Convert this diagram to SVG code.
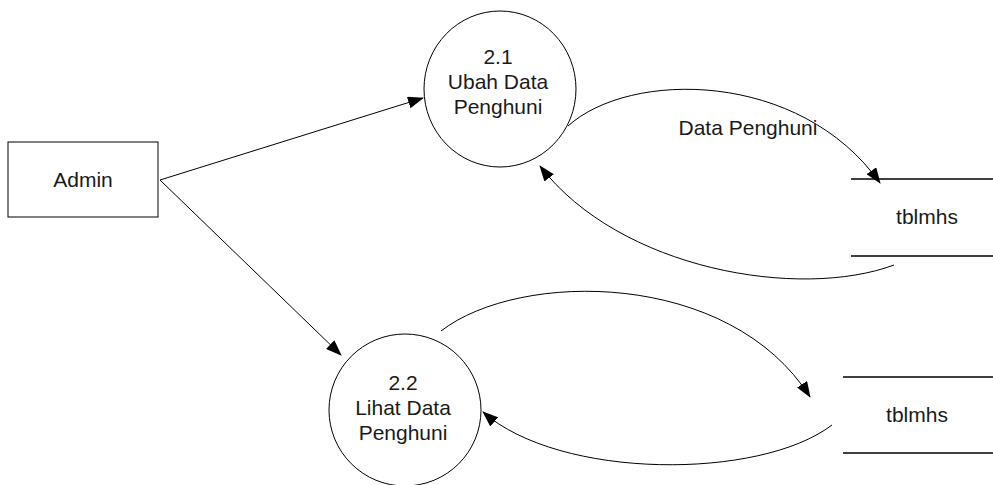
<svg xmlns="http://www.w3.org/2000/svg" width="993" height="485" viewBox="0 0 993 485">
<style>
  .shape { fill: #ffffff; stroke: #000000; stroke-width: 1; }
  .store { stroke: #000000; stroke-width: 1.3; fill: none; }
  .conn { fill: none; stroke: #000000; stroke-width: 1; marker-end: url(#arrow); }
  text { font-family: "Liberation Sans", Arial, sans-serif; font-size: 21px; fill: #1a1a1a; text-anchor: middle; }
</style>
<defs>
  <marker id="arrow" markerUnits="userSpaceOnUse" markerWidth="16" markerHeight="12" viewBox="0 0 16 12" refX="15" refY="6" orient="auto">
    <path d="M0,0 L16,6 L0,12 z" fill="#000000"/>
  </marker>
</defs>
<rect width="993" height="485" fill="#ffffff"/>
<g id="connectors">
  <line class="conn" x1="160" y1="180" x2="423" y2="98"/>
  <line class="conn" x1="160" y1="180" x2="341" y2="355"/>
  <path class="conn" d="M568,126 C630,70 800,70 880,183"/>
  <path class="conn" d="M894,265 C800,300 620,270 540,166"/>
  <path class="conn" d="M441,331 C520,270 730,270 810,397"/>
  <path class="conn" d="M832,425 C760,480 560,480 483,412"/>
</g>
<g id="admin">
  <rect class="shape" x="8" y="142" width="150" height="75"/>
  <text x="83" y="187">Admin</text>
</g>
<g id="p21">
  <ellipse class="shape" cx="500" cy="89" rx="76" ry="78"/>
  <text x="498" y="64">2.1</text>
  <text x="498" y="89">Ubah Data</text>
  <text x="498" y="114">Penghuni</text>
</g>
<g id="p22">
  <circle class="shape" cx="405" cy="410" r="76"/>
  <text x="403" y="390">2.2</text>
  <text x="403" y="415">Lihat Data</text>
  <text x="403" y="440">Penghuni</text>
</g>
<g id="store1">
  <line class="store" x1="851" y1="179" x2="993" y2="179"/>
  <line class="store" x1="851" y1="256" x2="993" y2="256"/>
  <text x="927" y="224">tblmhs</text>
</g>
<g id="store2">
  <line class="store" x1="843" y1="377" x2="993" y2="377"/>
  <line class="store" x1="843" y1="453" x2="993" y2="453"/>
  <text x="917" y="422">tblmhs</text>
</g>
<g id="label">
  <text x="748" y="135">Data Penghuni</text>
</g>
</svg>
